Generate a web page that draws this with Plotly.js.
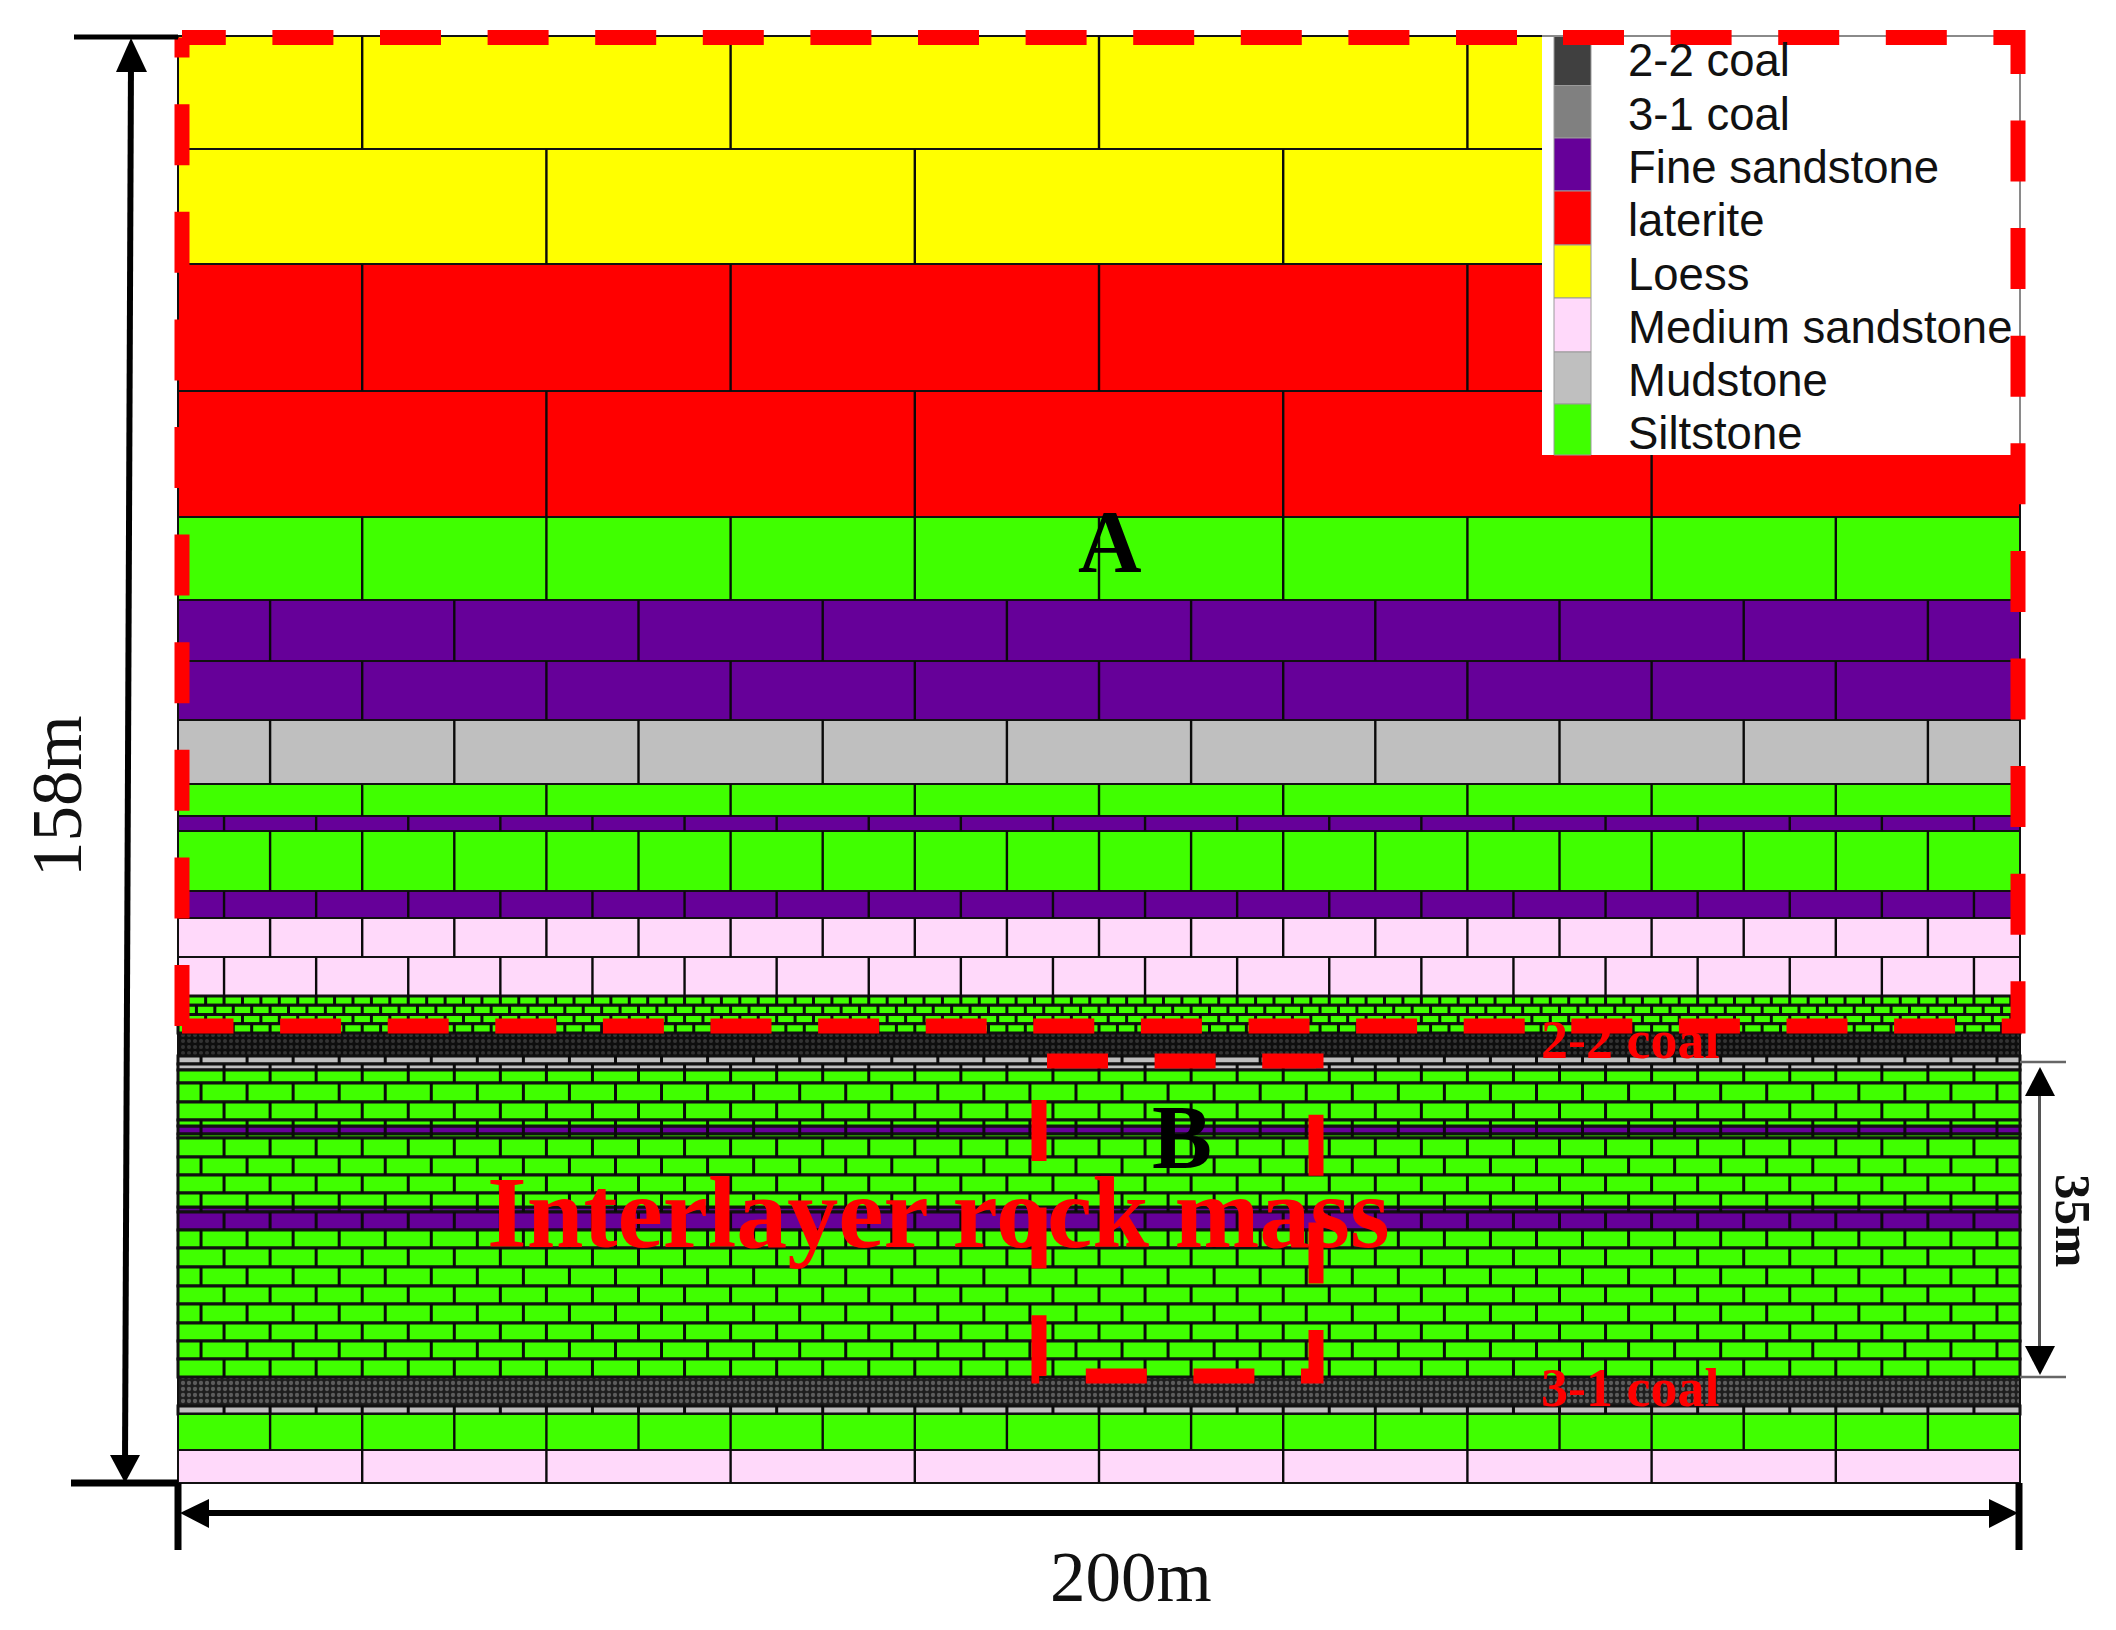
<![CDATA[<!DOCTYPE html>
<html><head><meta charset="utf-8">
<script src="https://cdn.plot.ly/plotly-3.0.1.min.js"></script>
<style>html,body{margin:0;padding:0;background:#fff}</style></head>
<body><div id="chart" style="width:2116px;height:1630px"></div>
<script>
// Model strata, read off the picture (metres above model base, top of each layer)
const layerTops = [158,145.66,133.1,119.24,105.48,96.42,89.76,83.32,76.33,72.83,71.19,64.64,61.7,57.44,53.18,52.17,51.16,50.15,49.14,46.63,45.75,45.1,43.68,41.6,39.64,38.98,38.11,37.67,35.6,33.63,31.67,30.14,29.59,27.63,25.66,23.59,21.51,19.55,17.47,15.51,13.54,11.57,8.41,7.53,3.6];
const layerLitho = ['Loess','Loess','laterite','laterite','Siltstone','Fine sandstone','Fine sandstone','Mudstone','Siltstone','Fine sandstone','Siltstone','Fine sandstone','Medium sandstone','Medium sandstone','Siltstone','Siltstone','Siltstone','Siltstone','2-2 coal','Mudstone','Mudstone','Siltstone','Siltstone','Siltstone','Siltstone','Fine sandstone','Siltstone','Siltstone','Siltstone','Siltstone','Siltstone','Fine sandstone','Fine sandstone','Siltstone','Siltstone','Siltstone','Siltstone','Siltstone','Siltstone','Siltstone','Siltstone','3-1 coal','Mudstone','Siltstone','Medium sandstone'];
const brickWidth = [40,40,40,40,20,20,20,20,20,10,10,10,10,10,2,2,2,2,0,5,5,5,5,5,5,5,5,5,5,5,5,5,5,5,5,5,5,5,5,5,5,0,5,10,20];
const brickFirst = [20,40,20,40,20,10,20,10,20,5,10,5,10,5,1,2,1,2,0,2.5,5,5,2.5,5,2.5,2.5,2.5,5,2.5,5,2.5,2.5,5,2.5,5,2.5,5,2.5,5,2.5,5,0,5,10,20];
const modelWidth = 200, modelBase = 0;

const legendNames = ['2-2 coal','3-1 coal','Fine sandstone','laterite','Loess','Medium sandstone','Mudstone','Siltstone'];
const legendColors = ['#404040','#808080','#660099','#ff0000','#ffff00','#ffd9fa','#bfbfbf','#40ff00'];

// page pixel <-> metre mapping of the figure
const PXM = 9.21, PYM = 9.158, X0 = 178, Y0 = 1483;
const X = p => (p - X0) / PXM, Y = p => (Y0 - p) / PYM;

const traces = [];
legendNames.forEach((name, k) => {
  const idx = layerLitho.map((n,i)=>n===name?i:-1).filter(i=>i>=0);
  const ys = idx.map(i => (layerTops[i] + (i+1<layerTops.length?layerTops[i+1]:modelBase))/2);
  const hs = idx.map(i => layerTops[i] - (i+1<layerTops.length?layerTops[i+1]:modelBase));
  const lw = idx.map(i => (brickWidth[i] > 0 && brickWidth[i] <= 5) ? 3 : 2);
  const marker = {color:legendColors[k], line:{color:'#111', width:lw}};
  if (name==='2-2 coal') marker.pattern = {shape:'.', bgcolor:'#0e0e0e', fgcolor:'#333333', size:6, solidity:0.35, fillmode:'replace'};
  if (name==='3-1 coal') marker.pattern = {shape:'.', bgcolor:'#1e1e1e', fgcolor:'#5c5c5c', size:6, solidity:0.4, fillmode:'replace'};
  traces.push({type:'bar', orientation:'h', name, y:ys, width:hs, x:ys.map(()=>modelWidth), base:ys.map(()=>0), marker, showlegend:false, hoverinfo:'name'});
});
// brick joints: wide bricks thin line, small bricks heavier line
const jx = [], jy = [], kx = [], ky = [];
layerTops.forEach((top,i) => {
  if (!brickWidth[i]) return;
  const bot = i+1<layerTops.length?layerTops[i+1]:modelBase;
  const ax = brickWidth[i] <= 5 ? kx : jx, ay = brickWidth[i] <= 5 ? ky : jy;
  for (let x = brickFirst[i]; x < modelWidth; x += brickWidth[i]) { ax.push(x,x,null); ay.push(top,bot,null); }
});
traces.push({type:'scatter', mode:'lines', x:jx, y:jy, line:{color:'#0a0a0a', width:2.4}, showlegend:false, hoverinfo:'skip'});
traces.push({type:'scatter', mode:'lines', x:kx, y:ky, line:{color:'#0a0a0a', width:3}, showlegend:false, hoverinfo:'skip'});

const px = (x0,y0,x1,y1) => ({x0:X(x0),y0:Y(y0),x1:X(x1),y1:Y(y1)});
const shapes = [];
// legend panel
shapes.push({type:'rect', ...px(1542,36,2020,455), fillcolor:'#fff', line:{width:0}, layer:'above'});
const swEdges = [36,85.5,138,191,245,298,352,404,455];
legendColors.forEach((c,i)=>shapes.push({type:'rect', ...px(1554,swEdges[i],1591,swEdges[i+1]), fillcolor:c, line:{color:'#9a9a9a',width:1}, layer:'above'}));
shapes.push({type:'line', ...px(1542,36,2020,36), line:{color:'#8a8a8a',width:2}, layer:'above'});
shapes.push({type:'line', ...px(2020,36,2020,455), line:{color:'#8a8a8a',width:2}, layer:'above'});

// red dashed study regions
const dash = {color:'#ff0000', width:15, dash:'61px,46.6px'};
const P = pts => 'M'+pts.map(p=>X(p[0])+','+Y(p[1])).join('L');
[[[1563,37.5],[2018,37.5],[2018,1026],[182,1026]],
 [[182,1026],[182,37.5]],
 [[1517,37.5],[182,37.5]],
 [[1047,1061],[1316,1061],[1316,1376],[1039,1376],[1039,1061]]
].forEach(p=>shapes.push({type:'path', path:P(p), line:dash, layer:'above'}));

// dimension lines
const L = (a,b,c,d,w,col) => shapes.push({type:'line', ...px(a,b,c,d), line:{color:col||'#000',width:w}, layer:'above'});
const T = pts => shapes.push({type:'path', path:P(pts)+'Z', fillcolor:'#000', line:{width:0}, layer:'above'});
L(74,37,178,37,5); L(71,1483,178,1483,7);
L(131,60,125,1465,6);
T([[131,38],[116,72],[147,72]]); T([[125,1483],[110,1455],[140,1455]]);
L(178,1483,178,1550,7); L(2019,1483,2019,1550,7);
L(200,1513,2000,1513,6);
T([[180,1513],[209,1499],[209,1528]]); T([[2018,1513],[1989,1499],[1989,1528]]);
L(2020,1062,2066,1062,2.5,'#666'); L(2020,1377,2066,1377,2.5,'#666');
L(2039.5,1090,2039.5,1350,3,'#555');
T([[2040,1067],[2025,1096],[2055,1096]]); T([[2040,1375],[2025,1346],[2055,1346]]);

const ann = (t,x,y,size,col,extra={}) => ({text:t, x:X(x), y:Y(y), showarrow:false, xanchor:'center', yanchor:'middle',
  font:{family:'"Liberation Serif",serif', size, color:col||'#000'}, ...extra});
const annotations = [
  ann('158m',57,796,71,'#111',{textangle:-90}),
  ann('200m',1131,1577,71,'#111'),
  ann('<b>35m</b>',2073,1220,51,'#111',{textangle:90}),
  ann('<b>A</b>',1110,541,88,'#000'),
  ann('<b>B</b>',1182,1137,90,'#000'),
  ann('<b>Interlayer rock mass</b>',938,1212,102,'#ff0000'),
  ann('<b>2-2 coal</b>',1630,1040,54,'#ff0000'),
  ann('<b>3-1 coal</b>',1630,1388,54,'#ff0000')
];
const legendY = [60.7,114.7,167,220,274,327,380,433];
legendNames.forEach((n,i)=>annotations.push({text:n, x:X(1626), y:Y(legendY[i]), showarrow:false, xanchor:'left', yanchor:'middle',
  font:{family:'"Liberation Sans",Arial,sans-serif', size:45.5, color:'#111'}}));

Plotly.newPlot('chart', traces, {
  width:2116, height:1630, margin:{l:0,r:0,t:0,b:0,pad:0}, paper_bgcolor:'#fff', plot_bgcolor:'#fff',
  barmode:'overlay', showlegend:false, shapes, annotations,
  xaxis:{visible:false, range:[X(0),X(2116)], fixedrange:true},
  yaxis:{visible:false, range:[Y(1630),Y(0)], fixedrange:true}
}, {staticPlot:true, displayModeBar:false});
</script></body></html>]]>
